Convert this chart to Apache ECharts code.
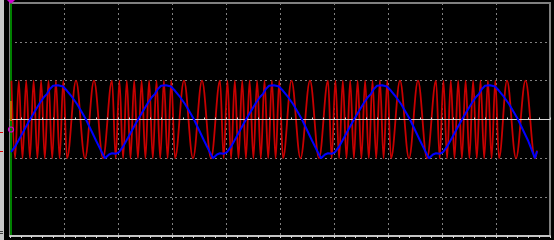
<!DOCTYPE html>
<html><head><meta charset="utf-8">
<script src="https://cdn.jsdelivr.net/npm/echarts@6/dist/echarts.min.js"></script>
<style>html,body{margin:0;padding:0;background:#000;overflow:hidden}#c{width:554px;height:240px}</style>
</head><body><div id="c"></div>
<script>
// Horizontal axis: time in screen divisions (54 units per division, 10 divisions)
const xRange = [0, 540];
const xDivision = 54;
// Vertical axis: volts in divisions (6 divisions)
const yRange = [-3, 3];
const yDivision = 1;

// Red trace (FM carrier): positions of each crest / trough
const redX = [
  1.4, 5.1, 8.8, 12.5, 16.2, 19.9, 23.6, 27.4, 31.1, 34.8, 38.5, 42.2, 45.9, 49.6, 53.3, 57, 66, 75, 84, 93, 102,
  105.7, 109.4, 113.1, 116.8, 120.5, 124.2, 127.9, 131.6, 135.4, 139.1, 142.8, 146.5, 150.2, 153.9, 157.6, 161.3, 165, 174, 183, 192, 201, 210,
  213.7, 217.4, 221.1, 224.8, 228.5, 232.2, 235.9, 239.6, 243.4, 247.1, 250.8, 254.5, 258.2, 261.9, 265.6, 269.3, 273, 281.5, 290.5, 300, 309, 318,
  321.7, 325.4, 329.1, 332.8, 336.5, 340.2, 343.9, 347.6, 351.4, 355.1, 358.8, 362.5, 366.2, 369.9, 373.6, 377.3, 381, 390, 399, 408, 417, 426,
  429.7, 433.4, 437.1, 440.8, 444.5, 448.2, 451.9, 455.6, 459.4, 463.1, 466.8, 470.5, 474.2, 477.9, 481.6, 485.3, 489, 497, 506, 515.5, 525, 527
];
const redY = [
  1,-1,1,-1,1,-1,1,-1,1,-1,1,-1,1,-1,1,-1,1,-1,1,-1,1,
  -1,1,-1,1,-1,1,-1,1,-1,1,-1,1,-1,1,-1,1,-1,1,-1,1,-1,1,
  -1,1,-1,1,-1,1,-1,1,-1,1,-1,1,-1,1,-1,1,-1,1,-1,1,-1,1,
  -1,1,-1,1,-1,1,-1,1,-1,1,-1,1,-1,1,-1,1,-1,1,-1,1,-1,1,
  -1,1,-1,1,-1,1,-1,1,-1,1,-1,1,-1,1,-1,1,-1,1,-1,1,-1,-0.8
];

// Blue trace (modulating triangle)
const blueX = [
  1, 5, 10, 15, 20, 25, 30, 34, 37, 40, 43, 48, 53, 57, 62, 67, 72, 76, 81, 86, 91,
  95, 99, 102, 106, 109, 113, 118, 123, 128, 133, 138, 142, 145, 148, 151, 156, 161, 165, 170, 175, 180, 184, 189, 194, 199,
  203, 207, 210, 214, 217, 221, 226, 231, 236, 241, 246, 250, 253, 256, 259, 264, 269, 273, 278, 283, 288, 292, 297, 302, 307,
  311, 315, 318, 322, 325, 329, 334, 339, 344, 349, 354, 358, 361, 364, 367, 372, 377, 381, 386, 391, 396, 400, 405, 410, 415,
  419, 423, 426, 430, 433, 437, 442, 447, 452, 457, 462, 466, 469, 472, 475, 480, 485, 489, 494, 499, 504, 508, 513, 518, 522,
  525, 527
];
const blueY = [
  -0.84,-0.7,-0.47,-0.23,0,0.22,0.43,0.58,0.66,0.79,0.87,0.88,0.85,0.74,0.58,0.4,0.18,0,-0.27,-0.54,-0.8,
  -1,-0.9,-0.87,-0.88,-0.84,-0.7,-0.47,-0.23,0,0.22,0.43,0.58,0.66,0.79,0.87,0.88,0.85,0.74,0.58,0.4,0.18,0,-0.27,-0.54,-0.8,
  -1,-0.9,-0.87,-0.88,-0.84,-0.7,-0.47,-0.23,0,0.22,0.43,0.58,0.66,0.79,0.87,0.88,0.85,0.74,0.58,0.4,0.18,0,-0.27,-0.54,-0.8,
  -1,-0.9,-0.87,-0.88,-0.84,-0.7,-0.47,-0.23,0,0.22,0.43,0.58,0.66,0.79,0.87,0.88,0.85,0.74,0.58,0.4,0.18,0,-0.27,-0.54,-0.8,
  -1,-0.9,-0.87,-0.88,-0.84,-0.7,-0.47,-0.23,0,0.22,0.43,0.58,0.66,0.79,0.87,0.88,0.85,0.74,0.58,0.4,0.18,0,-0.27,-0.54,-0.8,
  -1,-0.82
];

const redData = redX.map((x, i) => [x, redY[i]]);
const blueData = blueX.map((x, i) => [x, blueY[i]]);

const gridGrey = '#808080';
const centreColor = '#d8d8d8';

const chart = echarts.init(document.getElementById('c'), null, {renderer: 'canvas'});
const centreAxis = (inside) => ({
  type: 'value', min: xRange[0], max: xRange[1], interval: xDivision,
  position: 'bottom', z: 3,
  axisLine: {show: inside, onZero: true, lineStyle: {color: centreColor, width: 1}},
  axisTick: {show: true, inside: inside, length: 2, lineStyle: {color: centreColor, width: 1}},
  minorTick: {show: true, splitNumber: 5, length: 2, lineStyle: {color: centreColor, width: 1}},
  axisLabel: {show: false}, splitLine: {show: false}
});
chart.setOption({
  backgroundColor: '#000',
  animation: false,
  grid: {left: 10, top: 3, width: 540, height: 233, show: true, borderColor: gridGrey, borderWidth: 2, backgroundColor: 'transparent'},
  xAxis: [
    {
      type: 'value', min: xRange[0], max: xRange[1], interval: xDivision, position: 'bottom', z: 1,
      axisLine: {show: true, onZero: false, lineStyle: {color: '#c4c4c4', width: 2}},
      axisTick: {show: false}, axisLabel: {show: false},
      splitLine: {show: true, lineStyle: {color: gridGrey, width: 1, type: [2, 3]}}
    },
    centreAxis(true),
    centreAxis(false)
  ],
  yAxis: {
    type: 'value', min: yRange[0], max: yRange[1], interval: yDivision, z: 1, offset: -1,
    axisLine: {show: true, onZero: false, lineStyle: {color: '#008000', width: 2}},
    axisTick: {show: false}, axisLabel: {show: false},
    splitLine: {show: true, lineStyle: {color: gridGrey, width: 1, type: [2, 3]}}
  },
  series: [
    {
      type: 'line', name: 'CH1', data: redData, xAxisIndex: 0, showSymbol: false, silent: true,
      smooth: 0.36, smoothMonotone: 'x', z: 2,
      lineStyle: {color: '#c80000', width: 1.8}
    },
    {
      type: 'line', name: 'CH2', data: blueData, xAxisIndex: 0, showSymbol: false, silent: true,
      smooth: false, z: 4,
      lineStyle: {color: '#0000ff', width: 2}
    }
  ],
  graphic: [
    {type: 'rect', shape: {x: 0, y: 0, width: 4, height: 240}, style: {fill: '#c8c8c8'}, z: 100},
    {type: 'rect', shape: {x: 0, y: 132, width: 3, height: 1}, style: {fill: '#e00000'}, z: 101},
    {type: 'rect', shape: {x: 0, y: 151, width: 3, height: 1}, style: {fill: '#e00000'}, z: 101},
    {type: 'rect', shape: {x: 0, y: 231, width: 3, height: 1}, style: {fill: '#404040'}, z: 101},
    {type: 'rect', shape: {x: 0, y: 233, width: 3, height: 1}, style: {fill: '#404040'}, z: 101},
    {type: 'line', shape: {x1: 11, y1: 101, x2: 11, y2: 121}, style: {stroke: '#b07000', lineWidth: 2}, z: 100},
    {type: 'circle', shape: {cx: 11, cy: 129.5, r: 2.5}, style: {fill: 'none', stroke: '#d000d0', lineWidth: 1.2}, z: 101},
    {type: 'polygon', shape: {points: [[7, 0], [15, 0], [11, 4]]}, style: {fill: '#d000d0'}, z: 101}
  ]
});
</script>
</body></html>
